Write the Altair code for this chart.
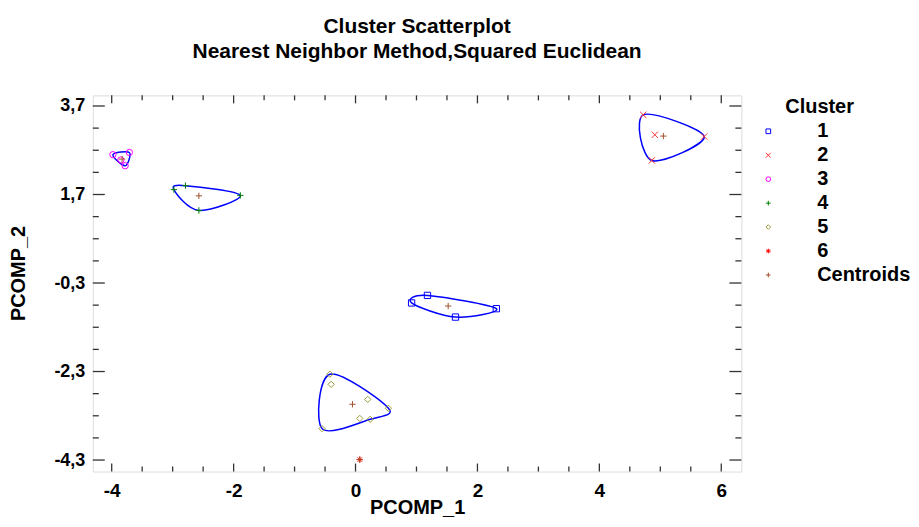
import altair as alt
import pandas as pd

# ---- data ----
c1_x = [0.92, 1.18, 1.64, 2.31]
c1_y = [-0.75, -0.58, -1.07, -0.88]
c2_x = [4.72, 4.91, 5.72, 4.86]
c2_y = [3.50, 3.05, 3.01, 2.47]
c3_x = [-3.98, -3.71, -3.78, -3.85]
c3_y = [2.60, 2.65, 2.35, 2.48]
c4_x = [-2.98, -2.79, -2.57, -1.89]
c4_y = [1.81, 1.90, 1.34, 1.68]
c5_x = [-0.42, -0.40, 0.20, 0.54, 0.07, 0.24, -0.55]
c5_y = [-2.36, -2.59, -2.93, -3.13, -3.36, -3.38, -3.59]
c6_x = [0.07]
c6_y = [-4.29]
cent_x = [1.52, 5.05, -3.83, -2.57, -0.05, 0.07]
cent_y = [-0.82, 3.02, 2.50, 1.67, -3.04, -4.29]

groups = ["1", "2", "3", "4", "5", "6", "Centroids"]
x_major = [-4, -2, 0, 2, 4, 6]
x_minor = [-3.5, -3, -2.5, -1.5, -1, -0.5, 0.5, 1, 1.5, 2.5, 3, 3.5, 4.5, 5, 5.5]
y_major = [3.7, 1.7, -0.3, -2.3, -4.3]
y_minor = [3.2, 2.7, 2.2, 1.2, 0.7, 0.2, -0.8, -1.3, -1.8, -2.8, -3.3, -3.8]

clusters = [(c1_x, c1_y), (c2_x, c2_y), (c3_x, c3_y), (c4_x, c4_y), (c5_x, c5_y), (c6_x, c6_y)]

# ---- tables ----
rows = []
for g, (xs, ys) in zip(groups[:6], clusters):
    for a, b in zip(xs, ys):
        rows.append({"x": a, "y": b, "group": g})
for a, b in zip(cent_x, cent_y):
    rows.append({"x": a, "y": b, "group": "Centroids"})
pts = pd.DataFrame(rows)


def hull(xs, ys):
    p = sorted(set(zip(xs, ys)))
    if len(p) < 3:
        return []

    def cross(o, a, b):
        return (a[0] - o[0]) * (b[1] - o[1]) - (a[1] - o[1]) * (b[0] - o[0])

    lower, upper = [], []
    for q in p:
        while len(lower) >= 2 and cross(lower[-2], lower[-1], q) <= 0:
            lower.pop()
        lower.append(q)
    for q in reversed(p):
        while len(upper) >= 2 and cross(upper[-2], upper[-1], q) <= 0:
            upper.pop()
        upper.append(q)
    return lower[:-1] + upper[:-1]


hrows = []
for g, (xs, ys) in zip(groups[:6], clusters):
    for i, (a, b) in enumerate(hull(xs, ys)):
        hrows.append({"x": a, "y": b, "group": g, "k": i})
hulls = pd.DataFrame(hrows)

xmaj = pd.DataFrame({"x": x_major})
xmin = pd.DataFrame({"x": x_minor})
ymaj = pd.DataFrame({"y": y_major})
ymin = pd.DataFrame({"y": y_minor})

W, H = 650, 377
FONT = "Liberation Sans"

xscale = alt.Scale(domain=[-4.31, 6.33], nice=False, zero=False)
yscale = alt.Scale(domain=[-4.56, 3.94], nice=False, zero=False)

x_axis = alt.Axis(values=x_major, format="d", ticks=False, domain=False, grid=False,
                  labelFont=FONT, labelFontSize=19, labelFontWeight="bold", labelColor="black",
                  labelPadding=10, labelExpr="replace(datum.label, '\u2212', '-')",
                  titleFont=FONT, titleFontSize=20, titleFontWeight="bold", titleColor="black",
                  titlePadding=-3)
y_axis = alt.Axis(values=y_major, ticks=False, domain=False, grid=False,
                  labelFont=FONT, labelFontSize=18, labelFontWeight="bold", labelColor="black",
                  labelPadding=8,
                  labelExpr="replace(replace(format(datum.value, '.1f'), '.', ','), '\u2212', '-')",
                  titleFont=FONT, titleFontSize=20, titleFontWeight="bold", titleColor="black",
                  titleX=-64, titleY=178)

X = alt.X("x:Q", scale=xscale, axis=x_axis, title="PCOMP_1")
Y = alt.Y("y:Q", scale=yscale, axis=y_axis, title="PCOMP_2")

shape_x = "M-1,-1L1,1M-1,1L1,-1"
shape_plus = "M-1,0L1,0M0,-1L0,1"
shape_star = "M-1,0L1,0M0,-1L0,1M-0.7,-0.7L0.7,0.7M-0.7,0.7L0.7,-0.7"
colors = ["#0000ff", "#ff3030", "#ff00ff", "#008000", "#9c9c3c", "#ff0000", "#a0522d"]
shapes = ["square", shape_x, "circle", shape_plus, "diamond", shape_star, shape_plus]

legend = alt.Legend(orient="none", legendX=667, legendY=26, title=None, padding=0,
                    labelFont=FONT, labelFontSize=20, labelFontWeight="bold", labelColor="black",
                    symbolSize=22, symbolStrokeWidth=1, labelOffset=39, rowPadding=4,
                    labelLimit=200)

lines = alt.Chart(hulls).mark_line(interpolate="cardinal-closed", color="#0000ff",
                                   strokeWidth=1.5).encode(
    x=X, y=Y, detail="group:N", order="k:Q")

points = alt.Chart(pts).mark_point(filled=False, opacity=1, size=40, strokeWidth=1).encode(
    x=X, y=Y,
    color=alt.Color("group:N", scale=alt.Scale(domain=groups, range=colors), legend=legend),
    shape=alt.Shape("group:N", scale=alt.Scale(domain=groups, range=shapes), legend=legend),
)

tick_style = dict(color="#333333", strokeWidth=1.3)
xt_bottom_maj = alt.Chart(xmaj).mark_rule(**tick_style).encode(x=X, y=alt.value(H), y2=alt.value(H - 8))
xt_bottom_min = alt.Chart(xmin).mark_rule(**tick_style).encode(x=X, y=alt.value(H), y2=alt.value(H - 5))
xt_top_maj = alt.Chart(xmaj).mark_rule(**tick_style).encode(x=X, y=alt.value(0), y2=alt.value(8))
xt_top_min = alt.Chart(xmin).mark_rule(**tick_style).encode(x=X, y=alt.value(0), y2=alt.value(5))
yt_left_maj = alt.Chart(ymaj).mark_rule(**tick_style).encode(y=Y, x=alt.value(0), x2=alt.value(12))
yt_left_min = alt.Chart(ymin).mark_rule(**tick_style).encode(y=Y, x=alt.value(0), x2=alt.value(6))
yt_right_maj = alt.Chart(ymaj).mark_rule(**tick_style).encode(y=Y, x=alt.value(W), x2=alt.value(W - 12))
yt_right_min = alt.Chart(ymin).mark_rule(**tick_style).encode(y=Y, x=alt.value(W), x2=alt.value(W - 6))

leg_title = alt.Chart(pd.DataFrame({"t": ["Cluster"]})).mark_text(
    align="left", baseline="alphabetic", font=FONT, fontSize=20, fontWeight="bold", color="black"
).encode(text="t:N", x=alt.value(694), y=alt.value(18))

chart = alt.layer(
    lines, points,
    xt_bottom_maj, xt_bottom_min, xt_top_maj, xt_top_min,
    yt_left_maj, yt_left_min, yt_right_maj, yt_right_min,
    leg_title,
).properties(
    width=W, height=H,
    title=alt.TitleParams(["Cluster Scatterplot", "Nearest Neighbor Method,Squared Euclidean"],
                          font=FONT, fontSize=21, fontWeight="bold", color="black",
                          anchor="middle", offset=33, lineHeight=25),
    autosize=alt.AutoSizeParams(type="none"),
    padding={"left": 85, "top": 87, "right": 170, "bottom": 47},
).configure_view(stroke="black", strokeWidth=1.5).configure(background="white")

chart.save("out.html", embed_options={"renderer": "svg", "actions": False})
